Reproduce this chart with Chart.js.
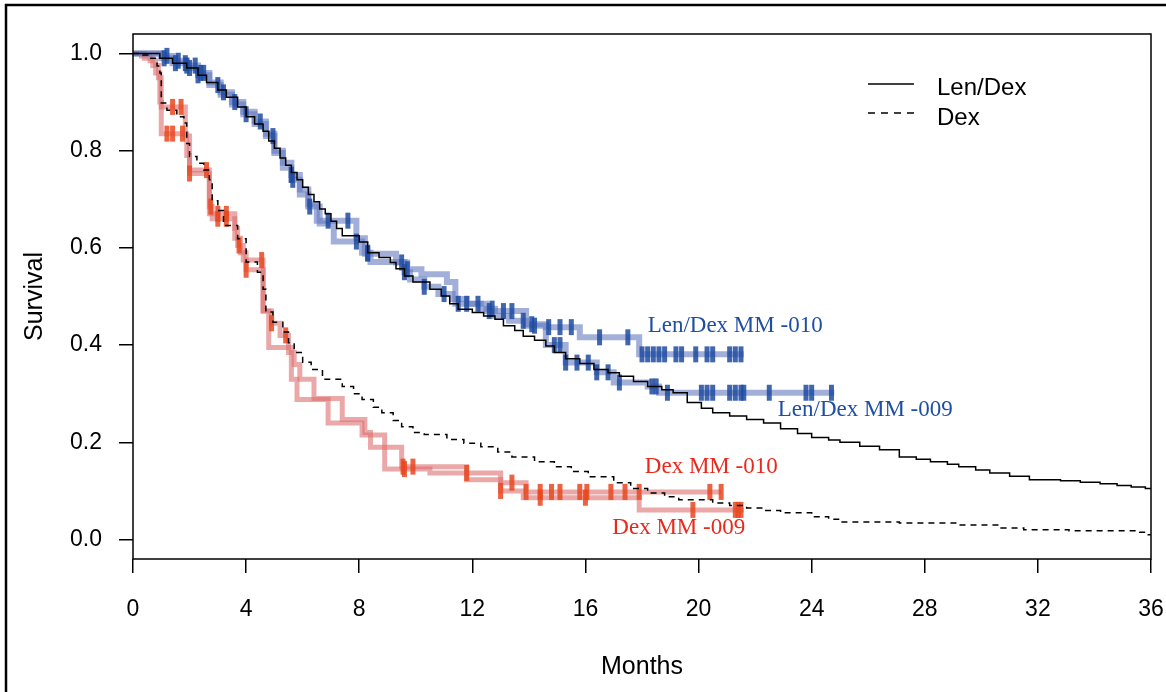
<!DOCTYPE html>
<html>
<head>
<meta charset="utf-8">
<script src="https://cdn.jsdelivr.net/npm/chart.js@4.4.1/dist/chart.umd.min.js"></script>
<style>
  html, body { margin: 0; padding: 0; background: #fff; }
</style>
</head>
<body>
<canvas id="km" width="1166" height="692"></canvas>
<script>
// step points [month, survival]
const lenDexPooled = [[0,1],[0.95,0.99],[1.4,0.98],[1.9,0.97],[2.3,0.955],[2.6,0.94],[3.0,0.925],[3.3,0.91],[3.7,0.89],[4.0,0.87],
  [4.3,0.855],[4.6,0.84],[4.8,0.82],[5.0,0.805],[5.2,0.785],[5.4,0.77],[5.6,0.755],[5.8,0.74],[6.0,0.725],[6.2,0.71],[6.4,0.695],
  [6.6,0.68],[6.8,0.67],[7.0,0.655],[7.2,0.64],[7.4,0.625],[8.0,0.612],[8.3,0.59],[8.7,0.58],[9.1,0.57],[9.3,0.557],[9.6,0.542],
  [9.9,0.53],[10.5,0.515],[10.9,0.501],[11.2,0.485],[11.5,0.474],[12.0,0.467],[12.4,0.46],[12.8,0.453],[13.1,0.44],[13.5,0.43],
  [13.8,0.418],[14.2,0.41],[14.6,0.398],[14.9,0.385],[15.3,0.372],[15.8,0.362],[16.3,0.35],[16.8,0.343],[17.2,0.336],[17.7,0.325],
  [18.2,0.315],[18.7,0.308],[19.1,0.302],[19.6,0.282],[20.1,0.27],[20.5,0.261],[21.1,0.254],[21.7,0.247],[22.3,0.24],[22.9,0.228],
  [23.5,0.218],[24.0,0.21],[24.6,0.205],[25.0,0.2],[25.7,0.192],[26.4,0.185],[27.1,0.17],[27.7,0.165],[28.2,0.16],[28.8,0.155],
  [29.2,0.15],[29.8,0.143],[30.3,0.137],[31.0,0.13],[31.7,0.123],[32.8,0.121],[33.5,0.118],[34.2,0.115],[34.8,0.111],[35.3,0.108],
  [35.8,0.105],[36,0.104]];

const dexPooled = [[0,1],[0.35,0.997],[0.6,0.99],[0.85,0.974],[0.95,0.96],[1.0,0.898],[1.2,0.883],[1.55,0.87],[1.8,0.857],[1.9,0.815],
  [2.0,0.788],[2.26,0.774],[2.5,0.76],[2.7,0.74],[2.8,0.697],[3.0,0.677],[3.2,0.646],[3.7,0.619],[4.0,0.571],[4.4,0.55],[4.6,0.515],
  [4.7,0.468],[4.95,0.447],[5.3,0.427],[5.5,0.405],[5.7,0.385],[6.0,0.365],[6.3,0.35],[6.7,0.33],[7.4,0.315],[7.8,0.3],[8.1,0.288],
  [8.5,0.272],[8.8,0.261],[9.2,0.245],[9.5,0.232],[9.9,0.22],[10.3,0.216],[11.1,0.206],[11.7,0.198],[12.3,0.191],[12.9,0.18],
  [13.4,0.17],[14.2,0.16],[14.9,0.15],[15.5,0.14],[16.1,0.129],[17.0,0.117],[17.6,0.105],[18.2,0.096],[18.8,0.088],[19.3,0.082],
  [20.5,0.075],[21.1,0.07],[21.7,0.065],[22.3,0.06],[22.9,0.055],[24.0,0.047],[24.6,0.042],[25.0,0.036],[27.1,0.034],[29.2,0.03],
  [30.7,0.024],[31.5,0.02],[33.1,0.018],[35.6,0.015],[35.9,0.01],[36,0.01]];

const lenDex010 = [[0,1],[1.0,0.995],[1.4,0.985],[1.9,0.975],[2.3,0.96],[2.7,0.94],[3.1,0.92],[3.5,0.9],[3.9,0.88],[4.3,0.86],
  [4.7,0.835],[5.0,0.8],[5.3,0.775],[5.6,0.75],[5.9,0.72],[6.2,0.69],[6.5,0.656],[7.9,0.62],[8.2,0.588],[9.3,0.57],[9.7,0.556],
  [10.2,0.546],[11.1,0.53],[11.4,0.485],[12.5,0.47],[13.9,0.443],[14.6,0.437],[15.8,0.416],[17.9,0.381],[21.6,0.381]];
const lenDex009 = [[0,1],[1.0,0.99],[1.4,0.98],[1.9,0.97],[2.3,0.955],[2.7,0.935],[3.1,0.915],[3.5,0.895],[3.9,0.875],[4.3,0.855],
  [4.7,0.83],[5.0,0.795],[5.3,0.765],[5.6,0.74],[5.9,0.71],[6.2,0.685],[6.6,0.65],[7.1,0.613],[8.1,0.59],[8.4,0.571],[9.6,0.55],
  [9.8,0.535],[10.3,0.52],[10.8,0.505],[11.3,0.495],[11.8,0.485],[12.3,0.475],[12.8,0.46],[13.3,0.45],[13.9,0.44],[14.6,0.4],
  [15.3,0.364],[16.4,0.344],[17.0,0.323],[18.2,0.315],[18.6,0.302],[24.8,0.302]];

const dex010 = [[0,1],[0.4,0.99],[0.7,0.975],[0.9,0.95],[1.0,0.89],[1.85,0.83],[2.0,0.76],[2.7,0.67],[3.6,0.64],[3.7,0.605],
  [3.9,0.575],[4.6,0.47],[4.9,0.445],[5.2,0.42],[5.5,0.385],[5.7,0.36],[5.9,0.33],[6.4,0.29],[7.4,0.247],[8.2,0.22],[8.4,0.19],
  [9.5,0.15],[11.8,0.137],[13.0,0.117],[13.9,0.098],[20.8,0.098]];
const dex009 = [[0,1],[0.3,0.995],[0.6,0.985],[0.8,0.96],[0.95,0.9],[1.0,0.835],[1.9,0.79],[2.0,0.753],[2.7,0.685],[2.8,0.66],
  [3.6,0.62],[3.8,0.59],[4.0,0.555],[4.6,0.47],[4.8,0.395],[5.6,0.33],[5.8,0.288],[6.9,0.24],[8.1,0.215],[8.9,0.145],[10.5,0.137],
  [11.8,0.123],[13.0,0.1],[13.8,0.086],[17.9,0.061],[21.6,0.061]];

// censoring times (months)
const lenDex010Censor = [1.2,1.6,1.9,2.2,2.4,2.5,3.2,3.6,4.5,5.6,6.9,7.6,8.3,9.5,9.7,11.5,11.8,12.2,12.6,13.1,13.4,14.1,14.7,15.1,
  15.5,16.5,17.5,18.0,18.2,18.4,18.6,18.8,19.2,19.4,19.9,20.3,20.5,21.1,21.3,21.5];
const lenDex009Censor = [1.1,1.5,1.85,2.0,2.3,3.0,4.0,4.95,5.65,6.25,7.9,8.3,9.6,10.3,11.0,12.7,13.8,14.2,14.9,15.1,15.3,15.7,16.1,
  16.4,16.8,17.2,18.35,18.5,18.9,20.1,20.3,20.5,21.1,21.3,21.5,21.6,22.5,23.8,24.0,24.7];
const dex010Censor = [1.4,1.7,2.6,3.0,3.3,3.75,4.55,4.9,5.4,9.55,9.9,11.8,13.4,13.9,14.4,14.8,15.1,15.8,16.05,16.9,17.4,17.9,20.4,20.8];
const dex009Censor = [1.2,1.4,1.75,2.0,2.75,3.0,3.3,4.0,9.6,13.0,14.4,16.0,19.8,21.3,21.4,21.5];

const xTicks = [0,4,8,12,16,20,24,28,32,36];
const yTicks = [0,0.2,0.4,0.6,0.8,1.0];

const BLUE_LINE = 'rgba(100,122,192,0.6)';
const BLUE_MARK = 'rgba(30,75,160,0.85)';
const RED_LINE = 'rgba(222,110,110,0.6)';
const RED_MARK = 'rgba(232,72,30,0.85)';

function toXY(steps) {
  return steps.map(p => ({x: p[0], y: p[1]}));
}
// survival of a step curve at time t (for placing censor marks on it)
function survAt(steps, t) {
  let s = steps[0][1];
  for (const p of steps) { if (p[0] <= t) s = p[1]; }
  return s;
}
function censorXY(steps, times) {
  return times.map(t => ({x: t, y: survAt(steps, t)}));
}

function curve(steps, color, width, order, dash) {
  return {
    type: 'line', data: toXY(steps), stepped: true, borderColor: color, borderWidth: width,
    borderDash: dash || [], pointRadius: 0, fill: false, order: order
  };
}
function marks(steps, times, color) {
  return {
    type: 'scatter', data: censorXY(steps, times), showLine: false, pointStyle: 'line', rotation: 90,
    pointRadius: 8, pointBorderWidth: 5, pointBorderColor: color, pointBackgroundColor: color, order: 1
  };
}

const frame = {
  id: 'frame',
  afterDraw(chart) {
    const ctx = chart.ctx;
    const a = chart.chartArea;
    const xs = chart.scales.x, ys = chart.scales.y;
    ctx.save();
    // outer figure frame
    ctx.strokeStyle = '#000';
    ctx.lineWidth = 2.5;
    ctx.beginPath();
    ctx.moveTo(6, 692); ctx.lineTo(6, 5); ctx.lineTo(1166, 5);
    ctx.stroke();
    // plot box
    ctx.lineWidth = 1.5;
    ctx.strokeRect(a.left, a.top, a.right - a.left, a.bottom - a.top);

    // legend
    ctx.lineWidth = 1.5;
    ctx.beginPath(); ctx.moveTo(868, 84); ctx.lineTo(914, 84); ctx.stroke();
    ctx.setLineDash([7, 6]);
    ctx.beginPath(); ctx.moveTo(868, 113); ctx.lineTo(916, 113); ctx.stroke();
    ctx.setLineDash([]);
    ctx.fillStyle = '#000';
    ctx.font = '24px "Liberation Sans", Arial, sans-serif';
    ctx.textBaseline = 'middle';
    ctx.textAlign = 'left';
    ctx.fillText('Len/Dex', 937, 88);
    ctx.fillText('Dex', 937, 118);

    // study labels
    ctx.font = '23px "Liberation Serif", "Times New Roman", serif';
    ctx.fillStyle = '#1f4fa3';
    ctx.fillText('Len/Dex MM -010', xs.getPixelForValue(18.2), ys.getPixelForValue(0.44));
    ctx.fillText('Len/Dex MM -009', xs.getPixelForValue(22.8), ys.getPixelForValue(0.267));
    ctx.fillStyle = '#e8291c';
    ctx.fillText('Dex MM -010', xs.getPixelForValue(18.1), ys.getPixelForValue(0.15));
    ctx.fillText('Dex MM -009', xs.getPixelForValue(16.95), ys.getPixelForValue(0.024));
    ctx.restore();
  }
};

Chart.defaults.font.family = '"Liberation Sans", Arial, sans-serif';
Chart.defaults.color = '#000';

new Chart(document.getElementById('km'), {
  data: {
    datasets: [
      curve(lenDexPooled, '#000', 1.5, 0),
      curve(dexPooled, '#000', 1.5, 0, [6, 5]),
      marks(lenDex010, lenDex010Censor, BLUE_MARK),
      marks(lenDex009, lenDex009Censor, BLUE_MARK),
      marks(dex010, dex010Censor, RED_MARK),
      marks(dex009, dex009Censor, RED_MARK),
      curve(lenDex010, BLUE_LINE, 6, 2),
      curve(lenDex009, BLUE_LINE, 6, 2),
      curve(dex010, RED_LINE, 5, 2),
      curve(dex009, RED_LINE, 5, 2)
    ]
  },
  options: {
    responsive: false,
    devicePixelRatio: 1,
    animation: false,
    layout: { padding: { top: 34, right: 15, left: 0, bottom: 0 } },
    plugins: { legend: { display: false }, tooltip: { enabled: false } },
    scales: {
      x: {
        type: 'linear', min: 0, max: 36,
        afterBuildTicks: s => { s.ticks = xTicks.map(v => ({value: v})); },
        afterFit: s => { s.height = 133; s.paddingLeft = 0; s.paddingRight = 0; },
        ticks: { font: { size: 23 }, padding: 23, maxRotation: 0 },
        grid: { drawOnChartArea: false, tickLength: 14, color: '#000', lineWidth: 1.5 },
        border: { display: false },
        title: { display: true, text: 'Months', font: { size: 25 }, padding: { bottom: 10 } }
      },
      y: {
        type: 'linear', min: -0.04, max: 1.04,
        afterBuildTicks: s => { s.ticks = yTicks.map(v => ({value: v})); },
        afterFit: s => { s.width = 133; s.paddingTop = 0; s.paddingBottom = 0; },
        ticks: { font: { size: 23 }, padding: 17, callback: v => v.toFixed(1) },
        grid: { drawOnChartArea: false, tickLength: 14, color: '#000', lineWidth: 1.5 },
        border: { display: false },
        title: { display: true, text: 'Survival', font: { size: 25 }, padding: { top: 20 } }
      }
    }
  },
  plugins: [frame]
});
</script>
</body>
</html>
